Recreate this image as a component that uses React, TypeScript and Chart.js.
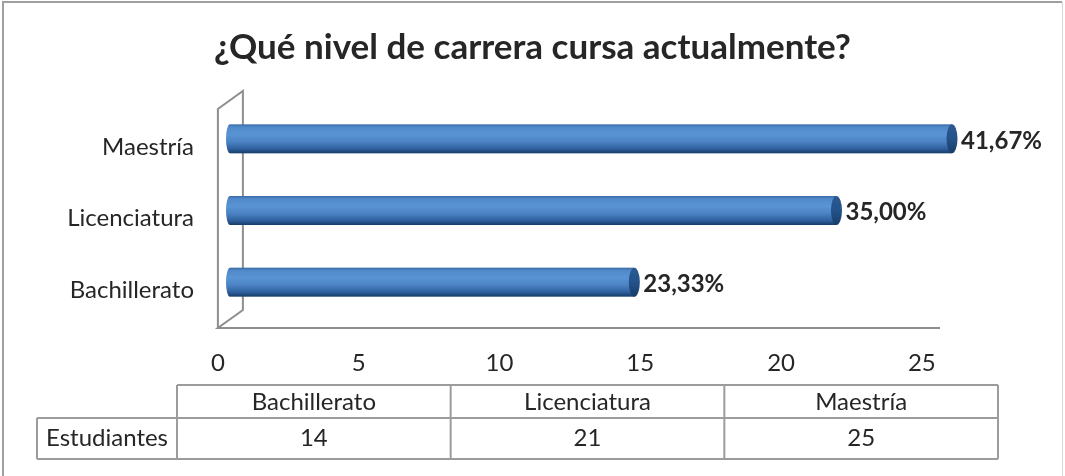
import React, { useEffect, useRef } from 'react';
import { Chart, registerables } from 'chart.js';

Chart.register(...registerables);

const TITLE = '¿Qué nivel de carrera cursa actualmente?';
const categories = ['Bachillerato', 'Licenciatura', 'Maestría'];
const students = [14, 21, 25];
const percentLabels = ['23,33%', '35,00%', '41,67%'];
const tickValues = [0, 5, 10, 15, 20, 25];
const seriesName = 'Estudiantes';

const FONT = 'Lato, "Open Sans", sans-serif';
const TEXT = '#262626';
const LINE = '#9c9c9c';

const W = 1065;
const H = 476;

const frameAndWall = {
  id: 'frameAndWall',
  beforeDatasetsDraw(chart: any) {
    const { ctx, chartArea } = chart;
    const xt = chart.scales.xt;
    const x = chart.scales.x;
    ctx.save();
    // outer frame
    ctx.strokeStyle = '#a0a0a0';
    ctx.lineWidth = 2;
    ctx.beginPath();
    ctx.moveTo(3, H + 2);
    ctx.lineTo(3, 2);
    ctx.lineTo(W - 3, 2);
    ctx.stroke();
    ctx.strokeStyle = '#d6d6d6';
    ctx.lineWidth = 1;
    ctx.beginPath();
    ctx.moveTo(W - 2.5, 2);
    ctx.lineTo(W - 2.5, H);
    ctx.stroke();

    // 3D wall + floor
    const fx = xt.getPixelForValue(0);
    const floorY = chartArea.bottom + 10;
    const dx = 25;
    const dy = 18;
    const topFront = chartArea.top + 6;
    ctx.strokeStyle = '#8e8e8e';
    ctx.lineWidth = 2;
    ctx.beginPath();
    ctx.moveTo(fx, floorY);
    ctx.lineTo(fx, topFront);
    ctx.lineTo(fx + dx, topFront - dy);
    ctx.lineTo(fx + dx, floorY - dy);
    ctx.lineTo(fx, floorY);
    ctx.lineTo(x.getPixelForValue(25) - 12, floorY);
    ctx.stroke();
    ctx.restore();
  },
};

const cylinders = {
  id: 'cylinders',
  afterDatasetsDraw(chart: any) {
    const { ctx } = chart;
    const meta = chart.getDatasetMeta(0);
    ctx.save();
    meta.data.forEach((el: any, i: number) => {
      const { x, y, base, height } = el.getProps(['x', 'y', 'base', 'height'], true);
      const h = height;
      const top = y - h / 2;
      const g = ctx.createLinearGradient(0, top, 0, top + h);
      g.addColorStop(0, '#3a6aa6');
      g.addColorStop(0.1, '#518aca');
      g.addColorStop(0.35, '#5a94d5');
      g.addColorStop(0.6, '#4b83c4');
      g.addColorStop(0.85, '#2e5f9c');
      g.addColorStop(1, '#163b67');
      ctx.fillStyle = g;
      ctx.fillRect(base, top, x - base, h);
      // left rounded end
      ctx.beginPath();
      ctx.ellipse(base, y, 4, h / 2, 0, Math.PI / 2, (Math.PI * 3) / 2);
      ctx.fill();
      // right cap
      const cg = ctx.createLinearGradient(0, top, 0, top + h);
      cg.addColorStop(0, '#2a5a93');
      cg.addColorStop(0.5, '#245289');
      cg.addColorStop(1, '#173d6a');
      ctx.fillStyle = cg;
      ctx.beginPath();
      ctx.ellipse(x, y, 5.5, h / 2, 0, 0, Math.PI * 2);
      ctx.fill();
      // value label
      ctx.fillStyle = TEXT;
      ctx.font = `bold 24px ${FONT}`;
      ctx.textAlign = 'left';
      ctx.textBaseline = 'middle';
      ctx.fillText(percentLabels[i], x + 9, y + 2);
    });
    ctx.restore();
  },
};

const dataTable = {
  id: 'dataTable',
  afterDraw(chart: any) {
    const { ctx } = chart;
    const left = 37;
    const labelRight = 177;
    const right = 998;
    const top = 385;
    const mid = 418;
    const bottom = 459;
    const colW = (right - labelRight) / categories.length;
    ctx.save();
    ctx.strokeStyle = LINE;
    ctx.lineWidth = 2;
    ctx.beginPath();
    ctx.moveTo(labelRight, top);
    ctx.lineTo(right, top);
    ctx.moveTo(left, mid);
    ctx.lineTo(right, mid);
    ctx.moveTo(left, bottom);
    ctx.lineTo(right, bottom);
    ctx.moveTo(left, mid);
    ctx.lineTo(left, bottom);
    ctx.moveTo(labelRight, top);
    ctx.lineTo(labelRight, bottom);
    for (let i = 1; i <= categories.length; i++) {
      const cx = labelRight + colW * i;
      ctx.moveTo(cx, top);
      ctx.lineTo(cx, bottom);
    }
    ctx.stroke();

    ctx.fillStyle = TEXT;
    ctx.font = `24px ${FONT}`;
    ctx.textAlign = 'center';
    ctx.textBaseline = 'middle';
    categories.forEach((c, i) => {
      const cx = labelRight + colW * (i + 0.5);
      ctx.fillText(c, cx, (top + mid) / 2 + 1);
      ctx.fillText(String(students[i]), cx, (mid + bottom) / 2);
    });
    ctx.fillText(seriesName, (left + labelRight) / 2, (mid + bottom) / 2);
    ctx.restore();
  },
};

export default function App() {
  const ref = useRef<HTMLCanvasElement>(null);

  useEffect(() => {
    document.body.style.margin = '0';
    if (!ref.current) return;
    const chart = new Chart(ref.current, {
      type: 'bar',
      data: {
        labels: categories,
        datasets: [
          {
            label: seriesName,
            data: students,
            backgroundColor: 'rgba(0,0,0,0)',
            borderWidth: 0,
            barThickness: 29,
            xAxisID: 'x',
            yAxisID: 'y',
          },
        ],
      },
      options: {
        indexAxis: 'y',
        responsive: false,
        animation: false,
        layout: { padding: 0 },
        plugins: {
          legend: { display: false },
          tooltip: { enabled: false },
          title: {
            display: true,
            text: TITLE,
            color: TEXT,
            font: { family: FONT, size: 35, weight: 'bold' },
            padding: { top: 27, bottom: 34 },
          },
        },
        scales: {
          x: { type: 'linear', min: 0, max: 25, display: false },
          xt: {
            type: 'linear',
            axis: 'x',
            position: 'bottom',
            min: 0.43,
            max: 26.07,
            grid: { display: false, drawTicks: false },
            border: { display: false },
            ticks: { color: TEXT, font: { family: FONT, size: 24 }, padding: 31 },
            afterBuildTicks: (s: any) => {
              s.ticks = tickValues.map((v) => ({ value: v }));
            },
            afterFit: (s: any) => {
              s.height = 158;
            },
          },
          y: {
            type: 'category',
            reverse: true,
            grid: { display: false, drawTicks: false },
            border: { display: false },
            ticks: { color: TEXT, font: { family: FONT, size: 24 }, padding: 36, labelOffset: 8 },
            afterFit: (s: any) => {
              s.width = 230;
            },
          },
          yr: {
            type: 'linear',
            axis: 'y',
            position: 'right',
            grid: { display: false, drawTicks: false },
            border: { display: false },
            ticks: { display: false },
            afterFit: (s: any) => {
              s.width = 113;
            },
          },
        },
      } as any,
      plugins: [frameAndWall, cylinders, dataTable],
    });
    return () => chart.destroy();
  }, []);

  return (
    <div style={{ width: W, height: H }}>
      <canvas ref={ref} width={W} height={H} style={{ width: W, height: H, display: 'block' }} />
    </div>
  );
}
